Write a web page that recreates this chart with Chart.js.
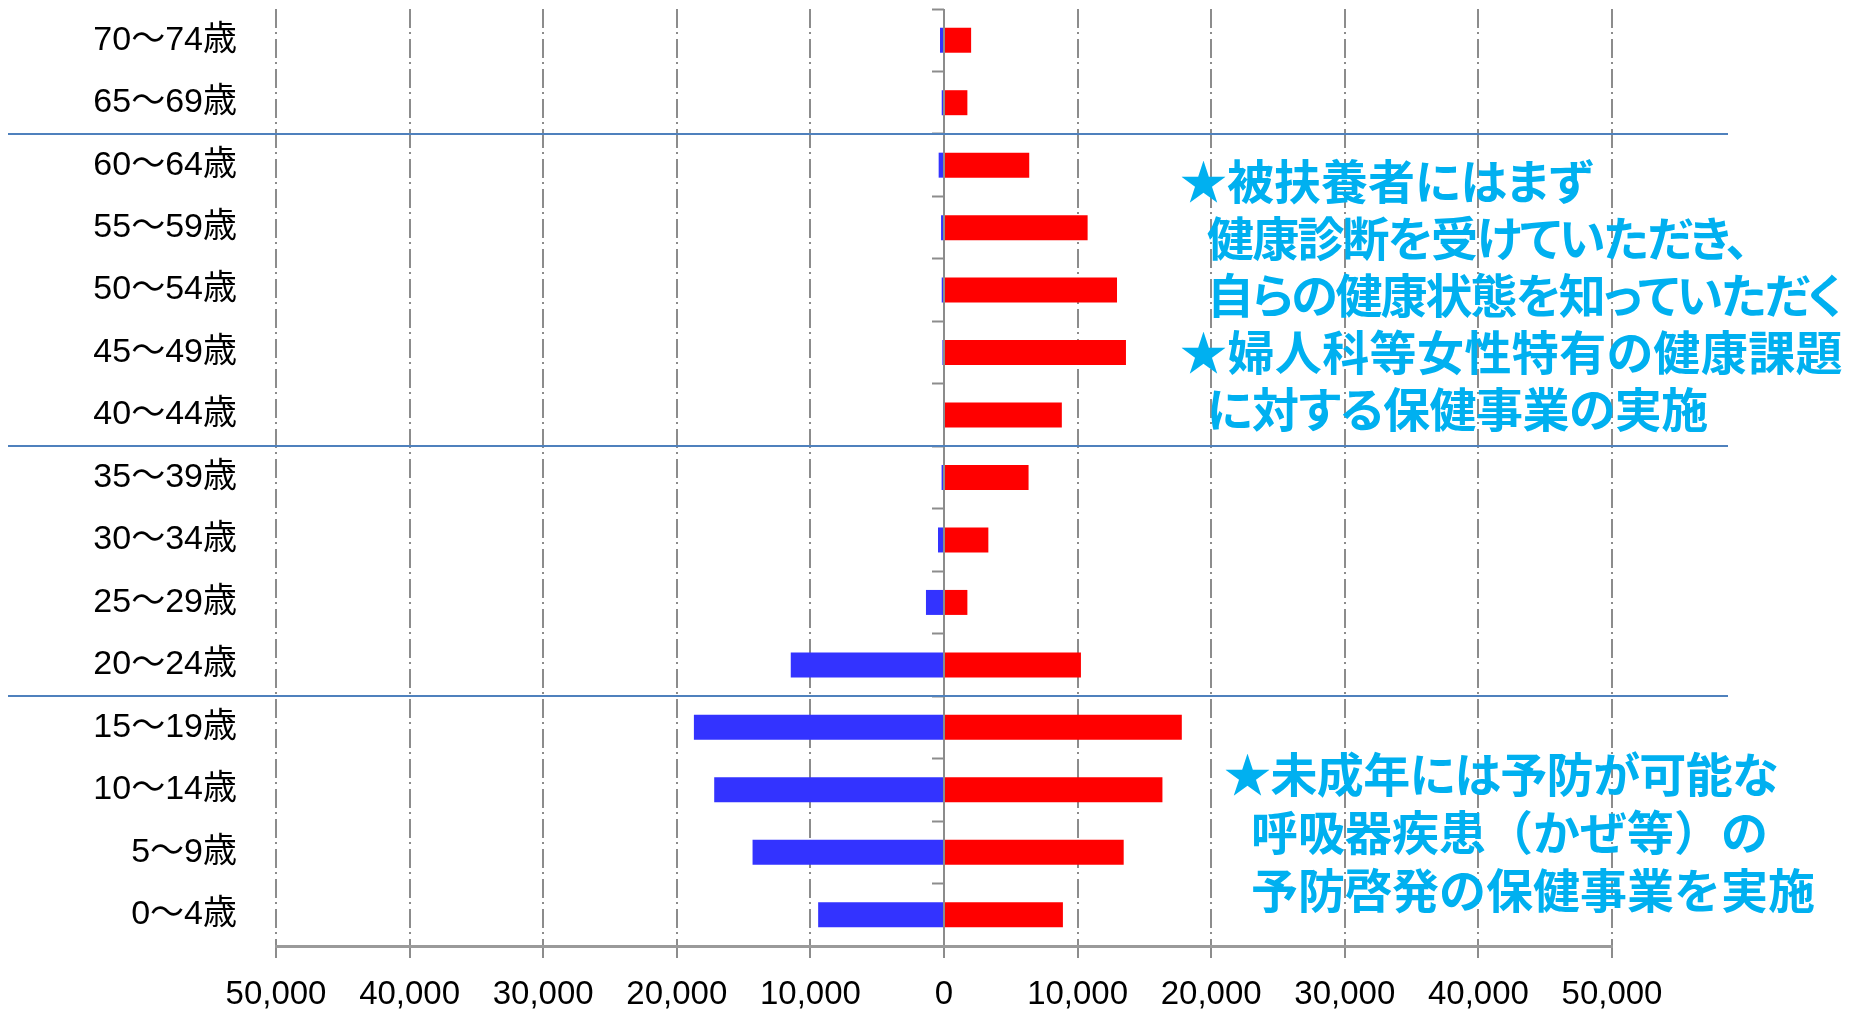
<!DOCTYPE html>
<html lang="ja">
<head>
<meta charset="utf-8">
<title>年齢階級別 人数</title>
<script src="https://cdn.jsdelivr.net/npm/chart.js@4.4.0/dist/chart.umd.min.js"></script>
<style>
  html, body { margin: 0; padding: 0; background: #fff; }
  #wrap { position: relative; width: 1850px; height: 1011px; }
  .note {
    position: absolute;
    color: #00B0F0;
    font-family: 'Noto Sans CJK JP', sans-serif;
    font-weight: 700;
    font-size: 47px;
    line-height: 57px;
    white-space: nowrap;
  }
  .note .p { font-feature-settings: "palt"; }
  .note .ind { padding-left: 27px; }
</style>
</head>
<body>
<div id="wrap">
  <canvas id="pyramid"></canvas>
  <div class="note" style="left:1180px; top:150px;">
    <div class="p">★被扶養者にはまず</div>
    <div class="p ind" style="letter-spacing:-1.8px;">健康診断を受けていただき、</div>
    <div class="p ind" style="letter-spacing:-2px;">自らの健康状態を知っていただく</div>
    <div class="p" style="letter-spacing:0.4px;">★婦人科等女性特有の健康課題</div>
    <div class="p ind" style="letter-spacing:-0.5px;">に対する保健事業の実施</div>
  </div>
  <div class="note" style="left:1224px; top:743px; line-height:58px;">
    <div class="p" style="letter-spacing:-0.6px;">★未成年には予防が可能な</div>
    <div class="ind">呼吸器疾患（かぜ等）の</div>
    <div class="ind">予防啓発の保健事業を実施</div>
  </div>
</div>
<script>
// age bands, youngest first (drawn bottom to top)
const ageGroups = ['0～4歳', '5～9歳', '10～14歳', '15～19歳', '20～24歳', '25～29歳', '30～34歳',
  '35～39歳', '40～44歳', '45～49歳', '50～54歳', '55～59歳', '60～64歳', '65～69歳', '70～74歳'];

// blue bars (left side)
const maleCounts = [9420, 14330, 17200, 18720, 11470, 1350, 450, 180, 70, 120, 170, 220, 400, 170, 300];
// red bars (right side)
const femaleCounts = [8900, 13450, 16350, 17800, 10250, 1750, 3320, 6330, 8820, 13620, 12950, 10750, 6380, 1750, 2030];

const xTickValues = [-50000, -40000, -30000, -20000, -10000, 0, 10000, 20000, 30000, 40000, 50000];

// a blue rule is drawn under each of these bands
const groupStarts = ['20～24歳', '40～44歳', '65～69歳'];

const GRAY = '#8c8c8c';
const labelFont = { family: "'Liberation Sans', 'Noto Sans CJK JP', sans-serif", size: 34 };

// horizontal rules separating the age groups
const groupLines = {
  id: 'groupLines',
  afterDraw(chart, args, opts) {
    const { ctx, chartArea, scales: { y } } = chart;
    ctx.save();
    ctx.strokeStyle = opts.color;
    ctx.lineWidth = opts.width;
    groupStarts.forEach(label => {
      const i = ageGroups.indexOf(label);
      const py = Math.round((y.getPixelForValue(i) + y.getPixelForValue(i - 1)) / 2);
      ctx.beginPath();
      ctx.moveTo(opts.left, py);
      ctx.lineTo(chartArea.right + opts.overhang, py);
      ctx.stroke();
    });
    ctx.restore();
  }
};

const chart = new Chart(document.getElementById('pyramid'), {
  type: 'bar',
  data: {
    labels: ageGroups,
    datasets: [
      {
        label: 'male',
        data: maleCounts.map(v => -v),
        backgroundColor: '#3333FF',
        borderWidth: 0
      },
      {
        label: 'female',
        data: femaleCounts,
        backgroundColor: '#FF0000',
        borderWidth: 0
      }
    ]
  },
  options: {
    indexAxis: 'y',
    responsive: true,
    maintainAspectRatio: false,
    animation: false,
    layout: { padding: { top: 9, right: 238, bottom: 0, left: 0 } },
    datasets: {
      bar: { barPercentage: 0.4, categoryPercentage: 1.0 }
    },
    scales: {
      x: {
        type: 'linear',
        stacked: true,
        min: -50000,
        max: 50000,
        afterBuildTicks: scale => { scale.ticks = xTickValues.map(v => ({ value: v })); },
        afterFit: scale => { scale.height = 65; },
        ticks: {
          callback: v => Math.abs(v).toLocaleString('en-US'),
          font: { family: "'Liberation Sans', sans-serif", size: 33 },
          color: '#000',
          padding: 17,
          maxRotation: 0,
          autoSkip: false
        },
        grid: {
          color: GRAY,
          lineWidth: 2,
          tickLength: 12,
          tickColor: GRAY,
          tickWidth: 2
        },
        border: {
          display: true,
          color: '#9a9a9a',
          width: 3,
          // dash-dot grid, but a solid line through zero
          dash: c => (c.type === 'tick' && c.tick && c.tick.value !== 0) ? [19, 4, 2, 5] : []
        }
      },
      y: {
        type: 'category',
        stacked: true,
        reverse: true,
        afterFit: scale => {
          scale.width = 276;
          // the label gap should not push the plot down from the top
          scale.paddingTop = 0;
          scale.paddingBottom = 0;
        },
        ticks: { font: labelFont, color: '#000', padding: 39 },
        grid: { display: false, drawTicks: false },
        border: { display: false }
      },
      // small tick marks on the centre line between the bands
      yMid: {
        type: 'category',
        position: { x: 0 },
        reverse: true,
        offset: true,
        ticks: { display: false },
        grid: {
          offset: true,
          drawOnChartArea: false,
          tickLength: 12,
          tickWidth: 2,
          tickColor: GRAY
        },
        border: { display: false }
      }
    },
    plugins: {
      legend: { display: false },
      tooltip: { enabled: false },
      groupLines: { color: '#4F81BD', width: 2, left: 8, overhang: 116 }
    }
  },
  plugins: [groupLines]
});
</script>
</body>
</html>
